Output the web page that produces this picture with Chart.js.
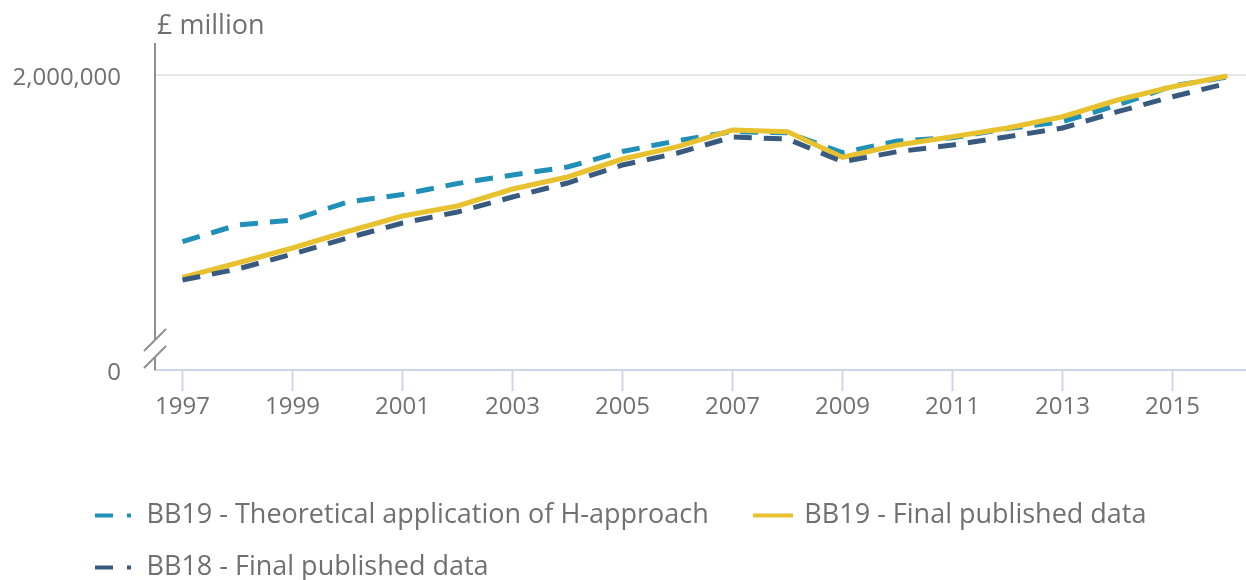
<!DOCTYPE html>
<html>
<head>
<meta charset="utf-8">
<script src="https://cdn.jsdelivr.net/npm/chart.js@4.4.1/dist/chart.umd.min.js"></script>
<style>
  html, body { margin: 0; padding: 0; background: #fff; overflow: hidden; }
  #wrap { width: 1246px; height: 591px; }
</style>
</head>
<body>
<div id="wrap"><canvas id="chart" width="1246" height="591"></canvas></div>
<script>
// years on the x axis
const years = [1997, 1998, 1999, 2000, 2001, 2002, 2003, 2004, 2005, 2006,
               2007, 2008, 2009, 2010, 2011, 2012, 2013, 2014, 2015, 2016];

// £ million
const hApproach = [1095900, 1186400, 1213600, 1311200, 1351900, 1411500, 1457600, 1501000, 1585100, 1643700,
                   1692500, 1687000, 1578600, 1642000, 1659900, 1709800, 1746700, 1837300, 1940300, 1989200];
const bb19Final = [902800, 980300, 1061700, 1151200, 1235300, 1289500, 1381700, 1446800, 1544400, 1611100,
                   1701700, 1692500, 1553600, 1620300, 1665400, 1712500, 1773800, 1864400, 1936500, 1994600];
const bb18Final = [888100, 947800, 1029200, 1115900, 1197300, 1257000, 1338300, 1414200, 1511900, 1577000,
                   1663700, 1652900, 1529800, 1584000, 1620300, 1665400, 1712500, 1801000, 1882300, 1955000];

const xTickYears = [1997, 1999, 2001, 2003, 2005, 2007, 2009, 2011, 2013, 2015];
// axis is broken: the bottom tick stands for 0
const yTickValues = [400000, 2000000];
const yTickLabels = ['0', '2,000,000'];

const seriesNames = ['BB19 - Theoretical application of H-approach', 'BB19 - Final published data', 'BB18 - Final published data'];
const colours = ['#2190b9', '#e8c12e', '#385a7f'];

const FONT = "'Open Sans', sans-serif";
const TEXT = '#707070';

function pts(vals) {
    return years.map((y, i) => ({ x: y, y: vals[i] }));
}

// legend symbols: a dash and a dot, or a solid line
function legendSymbol(colour, dashed) {
    const c = document.createElement('canvas');
    c.width = 40; c.height = 6;
    const g = c.getContext('2d');
    g.fillStyle = colour;
    if (dashed) {
        g.fillRect(0, 1, 18, 4);
        g.fillRect(32, 1, 4, 4);
    } else {
        g.fillRect(0, 1, 40, 4);
    }
    return c;
}
const symbols = [legendSymbol(colours[0], true), legendSymbol(colours[1], false), legendSymbol(colours[2], true)];

const extras = {
    id: 'extras',
    beforeDraw(chart) {
        chart.legend.left = 72;
    },
    afterDraw(chart) {
        const ctx = chart.ctx;
        const L = chart.chartArea.left;
        const T = chart.chartArea.top;
        const B = chart.chartArea.bottom;
        ctx.save();
        // unit label
        ctx.fillStyle = TEXT;
        ctx.font = "27px " + FONT;
        ctx.textAlign = 'left';
        ctx.textBaseline = 'middle';
        ctx.fillText('£ million', L + 2, 26);
        // y axis line with a break
        ctx.strokeStyle = '#909090';
        ctx.lineWidth = 2;
        ctx.beginPath();
        ctx.moveTo(L, T);
        ctx.lineTo(L, B - 31);
        ctx.moveTo(L, B - 13);
        ctx.lineTo(L, B);
        ctx.moveTo(L - 11, B - 19);
        ctx.lineTo(L + 11, B - 41);
        ctx.moveTo(L - 11, B - 2);
        ctx.lineTo(L + 11, B - 24);
        ctx.stroke();
        ctx.restore();
    }
};

new Chart(document.getElementById('chart'), {
    type: 'line',
    data: {
        datasets: [
            { label: seriesNames[0], data: pts(hApproach), borderColor: colours[0], borderWidth: 5, borderDash: [18, 12], order: 3 },
            { label: seriesNames[1], data: pts(bb19Final), borderColor: colours[1], borderWidth: 5, order: 2 },
            { label: seriesNames[2], data: pts(bb18Final), borderColor: colours[2], borderWidth: 5, borderDash: [18, 12], order: 1 }
        ]
    },
    options: {
        responsive: false,
        animation: false,
        devicePixelRatio: 1,
        layout: { padding: { top: 43, right: 0, left: 0, bottom: 0 } },
        elements: {
            point: { radius: 0 },
            line: { tension: 0, borderCapStyle: 'butt', fill: false }
        },
        scales: {
            x: {
                type: 'linear',
                min: 1996.5,
                max: 2016.336,
                afterBuildTicks: s => { s.ticks = xTickYears.map(v => ({ value: v })); },
                afterFit: s => { s.height = 107; s.paddingLeft = 0; s.paddingRight = 0; },
                ticks: {
                    callback: v => String(v),
                    color: TEXT,
                    font: { family: FONT, size: 24 },
                    padding: 2,
                    maxRotation: 0
                },
                grid: { drawOnChartArea: false, drawTicks: true, tickLength: 21, tickColor: '#ccd6eb', tickWidth: 2 },
                border: { display: true, color: '#ccd6eb', width: 2 }
            },
            y: {
                min: 400000,
                max: 2173560,
                afterBuildTicks: s => { s.ticks = yTickValues.map(v => ({ value: v })); },
                afterFit: s => { s.width = 155; s.paddingTop = 0; s.paddingBottom = 0; },
                ticks: {
                    callback: (v, i) => yTickLabels[i],
                    color: TEXT,
                    font: { family: FONT, size: 24 },
                    padding: 34,
                    labelOffset: 3
                },
                grid: {
                    drawTicks: false,
                    lineWidth: 2,
                    color: c => (c.tick && c.tick.value === 2000000 ? '#e6e6e6' : 'rgba(0,0,0,0)')
                },
                border: { display: false }
            }
        },
        plugins: {
            tooltip: { enabled: false },
            legend: {
                position: 'bottom',
                align: 'start',
                labels: {
                    usePointStyle: true,
                    pointStyleWidth: 36,
                    padding: 25,
                    color: TEXT,
                    font: { family: FONT, size: 27 },
                    generateLabels: () => seriesNames.map((n, i) => ({
                        // a little trailing room after the long first entry
                        text: i === 0 ? n + '   ' : n,
                        pointStyle: symbols[i],
                        fillStyle: colours[i],
                        strokeStyle: colours[i],
                        lineWidth: 0,
                        fontColor: TEXT,
                        hidden: false,
                        datasetIndex: i
                    }))
                }
            }
        }
    },
    plugins: [extras]
});
</script>
</body>
</html>
